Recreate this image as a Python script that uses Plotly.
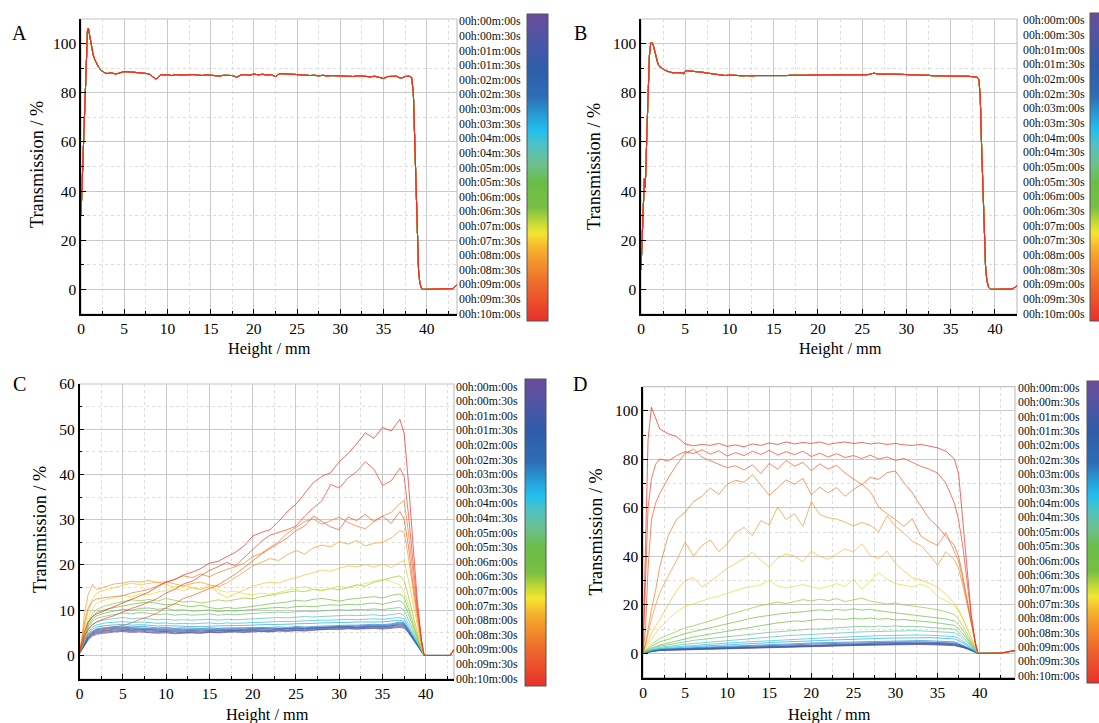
import plotly.graph_objects as go

W, H = 1099, 723

TIME_LABELS = ["00h:00m:00s", "00h:00m:30s", "00h:01m:00s", "00h:01m:30s", "00h:02m:00s",
               "00h:02m:30s", "00h:03m:00s", "00h:03m:30s", "00h:04m:00s", "00h:04m:30s",
               "00h:05m:00s", "00h:05m:30s", "00h:06m:00s", "00h:06m:30s", "00h:07m:00s",
               "00h:07m:30s", "00h:08m:00s", "00h:08m:30s", "00h:09m:00s", "00h:09m:30s",
               "00h:10m:00s"]

# ---------------- Panel A: (height mm, transmission %) all scans overlap ----------------
PROFILE_A = [(0, 30), (0.15, 45), (0.3, 62), (0.45, 82), (0.6, 98), (0.75, 105), (0.85, 106.3),
             (1.0, 103), (1.2, 98), (1.4, 95.5), (1.6, 93.5), (1.8, 91.8), (2.0, 90.5), (2.3, 89.2),
             (2.6, 88.4), (3.0, 87.8), (3.5, 88.1), (4.0, 87.6), (4.5, 88.0), (5.0, 88.6), (5.5, 88.5),
             (6.0, 88.4), (6.5, 88.2), (7.0, 88.0), (7.5, 87.9), (8.0, 87.4), (8.3, 86.6), (8.6, 85.6),
             (8.9, 86.0), (9.2, 87.4), (9.6, 87.2), (10, 87.3), (10.5, 87.0), (11, 87.4), (11.5, 87.2),
             (12, 87.3), (12.5, 87.1), (13, 87.4), (13.5, 87.2), (14, 87.0), (14.5, 87.3), (15, 87.2),
             (15.5, 87.0), (16, 86.8), (16.5, 87.1), (17, 87.2), (17.5, 87.0), (18, 86.3), (18.5, 87.2),
             (19, 87.4), (19.5, 87.1), (20, 87.6), (20.5, 87.3), (21, 87.5), (21.5, 87.2), (22, 87.4),
             (22.5, 86.6), (23, 87.8), (23.5, 87.6), (24, 87.7), (24.5, 87.5), (25, 87.4), (25.5, 87.2),
             (26, 87.3), (26.5, 87.0), (27, 87.1), (27.5, 86.9), (28, 87.1), (28.5, 86.8), (29, 87.0),
             (29.5, 86.9), (30, 86.7), (30.5, 86.9), (31, 86.8), (31.5, 86.6), (32, 86.9), (32.5, 86.7),
             (33, 86.8), (33.5, 86.5), (34, 86.7), (34.5, 86.4), (35, 85.8), (35.5, 86.6), (36, 86.5),
             (36.5, 86.7), (37, 85.9), (37.5, 86.6), (38, 86.7), (38.25, 86.2), (38.45, 80), (38.6, 60),
             (38.75, 38), (38.9, 20), (39.05, 8), (39.2, 2.5), (39.4, 0.3), (39.6, 0), (40, 0), (41, 0),
             (42, 0), (43, 0.3), (43.5, 1.8)]

# ---------------- Panel B ----------------
PROFILE_B = [(0, 8), (0.1, 20), (0.2, 32), (0.3, 42), (0.38, 45), (0.45, 41.5), (0.55, 48), (0.65, 62),
             (0.8, 82), (0.95, 95), (1.1, 100.2), (1.2, 100.6), (1.35, 99.8), (1.5, 97.5), (1.7, 94.5),
             (1.9, 92), (2.1, 90.6), (2.4, 89.8), (2.8, 89), (3.2, 88.5), (3.6, 88.1), (4.0, 88.2),
             (4.4, 88.3), (4.7, 88.1), (4.8, 87.6), (4.9, 88.4), (5.1, 89.0), (5.5, 88.9), (6.0, 88.7),
             (6.5, 88.5), (7.0, 88.3), (7.5, 88.0), (8.0, 87.8), (8.5, 87.5), (9.0, 87.3), (9.5, 87.0),
             (10.0, 87.2), (10.5, 87.0), (11, 87.1), (11.5, 86.9), (12, 87.0), (12.5, 86.8), (13, 87.0),
             (13.5, 86.9), (14, 87.1), (14.5, 87.0), (15, 87.0), (15.5, 86.9), (16, 87.1), (16.5, 87.0),
             (17, 87.1), (17.5, 87.0), (18, 87.2), (18.5, 87.1), (19, 87.2), (19.5, 87.2), (20, 87.3),
             (20.5, 87.2), (21, 87.3), (21.5, 87.2), (22, 87.4), (22.5, 87.3), (23, 87.4), (23.5, 87.5),
             (24, 87.4), (24.5, 87.5), (25, 87.4), (25.5, 87.3), (26, 87.6), (26.3, 88.0), (26.8, 87.6),
             (27.5, 87.7), (28, 87.8), (28.5, 87.6), (29, 87.5), (29.5, 87.6), (30, 87.4), (30.5, 87.3),
             (31, 87.3), (31.5, 87.1), (32, 87.0), (32.5, 87.1), (33, 86.9), (33.5, 86.9), (34, 86.8),
             (34.5, 86.9), (35, 86.7), (35.5, 86.8), (36, 86.7), (36.5, 86.6), (37, 86.7), (37.5, 86.5),
             (38, 86.3), (38.2, 85.2), (38.35, 78), (38.5, 58), (38.65, 38), (38.8, 20), (38.95, 9),
             (39.1, 3.5), (39.3, 0.8), (39.5, 0), (40, 0), (41, 0), (42, 0.2), (42.5, 1.5)]

# ---------------- Panel C: heights and one profile per scan ----------------
XC = [0, 0.3, 0.6, 1, 1.5, 2,
      3, 4, 5, 6, 7, 8, 9, 10, 11, 12, 13, 14, 15, 16, 17, 18, 19, 20, 21, 22, 23, 24, 25,
      26, 27, 28, 29, 30, 31, 32, 33, 34, 35, 36, 37,
      37.5, 38, 38.5, 39, 39.5, 39.8, 42.8, 43.25]

C_00m00s = [0.4, 1.2, 2.2, 3.4, 4.3, 4.7, 5.0, 5.2, 5.3, 5.1, 5.2, 5.0, 4.9, 5.0, 4.8, 4.9, 5.0, 4.9, 5.1, 5.0, 5.1, 5.2, 5.1, 5.2, 5.3, 5.2, 5.4, 5.3, 5.5, 5.4, 5.6, 5.7, 5.8, 5.7, 5.9, 5.8, 5.9, 6.0, 5.8, 6.0, 6.2, 6.0, 5.0, 3.6, 2.2, 0.9, 0.0, 0.0, 1.3]
C_00m30s = [0.4, 1.3, 2.4, 3.6, 4.5, 4.9, 5.2, 5.4, 5.5, 5.3, 5.4, 5.2, 5.1, 5.2, 5.0, 5.1, 5.1, 5.0, 5.2, 5.1, 5.3, 5.3, 5.2, 5.4, 5.4, 5.3, 5.5, 5.5, 5.6, 5.5, 5.7, 5.8, 5.9, 5.9, 6.0, 5.9, 6.0, 6.1, 6.0, 6.2, 6.4, 6.2, 5.1, 3.7, 2.3, 0.9, 0.0, 0.0, 1.3]
C_01m00s = [0.5, 1.4, 2.5, 3.8, 4.7, 5.1, 5.4, 5.6, 5.6, 5.5, 5.6, 5.4, 5.3, 5.3, 5.2, 5.2, 5.3, 5.2, 5.3, 5.3, 5.4, 5.5, 5.4, 5.5, 5.6, 5.5, 5.7, 5.6, 5.8, 5.7, 5.9, 6.0, 6.0, 6.1, 6.2, 6.1, 6.2, 6.3, 6.1, 6.3, 6.6, 6.4, 5.2, 3.8, 2.3, 0.9, 0.0, 0.0, 1.3]
C_01m30s = [0.5, 1.4, 2.6, 3.9, 4.8, 5.3, 5.6, 5.8, 5.8, 5.7, 5.8, 5.6, 5.5, 5.5, 5.4, 5.4, 5.5, 5.4, 5.5, 5.5, 5.6, 5.6, 5.5, 5.7, 5.7, 5.6, 5.8, 5.8, 5.9, 5.9, 6.0, 6.1, 6.2, 6.2, 6.3, 6.2, 6.3, 6.4, 6.3, 6.5, 6.8, 6.6, 5.4, 3.9, 2.4, 1.0, 0.0, 0.0, 1.3]
C_02m00s = [0.5, 1.5, 2.7, 4.0, 5.0, 5.5, 5.8, 6.0, 6.0, 5.9, 5.9, 5.8, 5.7, 5.7, 5.6, 5.6, 5.6, 5.6, 5.7, 5.6, 5.7, 5.8, 5.7, 5.8, 5.9, 5.8, 5.9, 5.9, 6.0, 6.0, 6.1, 6.2, 6.3, 6.3, 6.4, 6.3, 6.4, 6.5, 6.4, 6.6, 7.0, 6.8, 5.5, 4.0, 2.5, 1.0, 0.0, 0.0, 1.3]
C_02m30s = [0.5, 1.5, 2.8, 4.2, 5.2, 5.7, 6.0, 6.2, 6.2, 6.1, 6.1, 6.0, 5.9, 5.9, 5.8, 5.8, 5.8, 5.8, 5.9, 5.8, 5.9, 5.9, 5.9, 6.0, 6.0, 6.0, 6.1, 6.0, 6.2, 6.1, 6.2, 6.3, 6.4, 6.4, 6.5, 6.5, 6.6, 6.7, 6.6, 6.8, 7.2, 7.0, 5.6, 4.1, 2.5, 1.0, 0.0, 0.0, 1.3]
C_03m00s = [0.5, 1.6, 3.0, 4.4, 5.4, 5.9, 6.2, 6.4, 6.5, 6.3, 6.4, 6.3, 6.1, 6.2, 6.0, 6.1, 6.0, 6.0, 6.1, 6.0, 6.1, 6.1, 6.1, 6.2, 6.2, 6.2, 6.3, 6.2, 6.4, 6.3, 6.4, 6.5, 6.6, 6.6, 6.7, 6.7, 6.8, 6.9, 6.8, 7.0, 7.4, 7.2, 5.8, 4.2, 2.6, 1.0, 0.0, 0.0, 1.3]
C_03m30s = [0.5, 1.7, 3.2, 4.7, 5.8, 6.3, 6.6, 6.8, 6.9, 6.7, 6.8, 6.7, 6.5, 6.6, 6.5, 6.5, 6.4, 6.4, 6.5, 6.5, 6.6, 6.6, 6.6, 6.7, 6.8, 6.8, 6.9, 6.9, 7.0, 7.0, 7.1, 7.2, 7.2, 7.3, 7.3, 7.4, 7.4, 7.5, 7.4, 7.6, 7.8, 7.5, 6.0, 4.4, 2.7, 1.1, 0.0, 0.0, 1.3]
C_04m00s = [0.6, 1.8, 3.5, 5.1, 6.3, 6.8, 7.2, 7.4, 7.5, 7.3, 7.4, 7.3, 7.1, 7.2, 7.0, 7.1, 7.0, 7.1, 7.2, 7.0, 7.2, 7.1, 7.2, 7.3, 7.3, 7.4, 7.5, 7.5, 7.6, 7.6, 7.7, 7.8, 7.8, 7.9, 8.0, 7.9, 8.0, 8.1, 8.0, 8.2, 8.4, 8.0, 6.4, 4.6, 2.9, 1.1, 0.0, 0.0, 1.3]
C_04m30s = [0.6, 2.0, 3.8, 5.6, 6.9, 7.5, 7.9, 8.2, 8.4, 8.1, 8.3, 8.1, 7.9, 8.0, 7.8, 7.9, 7.8, 7.9, 8.0, 7.8, 8.0, 7.9, 8.0, 8.1, 8.2, 8.3, 8.4, 8.3, 8.5, 8.6, 8.5, 8.6, 8.7, 8.8, 8.9, 8.8, 8.9, 9.0, 8.8, 9.1, 9.3, 8.8, 7.0, 5.0, 3.1, 1.2, 0.0, 0.0, 1.3]
C_05m00s = [0.6, 2.1, 4.1, 6.1, 7.5, 8.2, 8.7, 9.1, 9.4, 9.2, 9.5, 9.3, 9.0, 9.2, 8.9, 9.1, 8.9, 9.0, 9.2, 8.9, 9.1, 9.0, 9.2, 9.3, 9.4, 9.5, 9.6, 9.5, 9.7, 9.8, 9.7, 9.9, 10.0, 10.1, 10.0, 10.2, 10.1, 10.3, 10.1, 10.4, 10.6, 10.0, 8.0, 5.7, 3.4, 1.3, 0.0, 0.0, 1.3]
C_05m30s = [0.7, 2.3, 4.4, 6.5, 8.0, 8.8, 9.4, 9.8, 10.2, 10.0, 10.4, 10.5, 10.2, 10.4, 10.0, 10.1, 9.8, 9.9, 10.1, 9.7, 9.9, 9.8, 10.0, 10.2, 10.3, 10.5, 10.6, 10.5, 10.8, 10.9, 10.8, 11.0, 11.2, 11.1, 11.3, 11.2, 11.4, 11.6, 11.3, 11.8, 12.1, 11.4, 9.1, 6.4, 3.8, 1.4, 0.0, 0.0, 1.3]
C_06m00s = [0.7, 2.4, 4.7, 7.0, 8.6, 9.5, 10.2, 10.6, 11.0, 11.3, 11.6, 11.8, 11.5, 11.2, 11.4, 11.0, 10.8, 11.1, 10.6, 10.3, 10.6, 10.4, 10.6, 10.9, 11.1, 11.4, 11.6, 11.8, 12.2, 12.0, 12.4, 12.6, 12.3, 12.0, 12.4, 12.6, 12.8, 13.0, 12.7, 13.3, 13.6, 12.8, 10.2, 7.2, 4.2, 1.5, 0.0, 0.0, 1.3]
C_06m30s = [0.7, 2.6, 5.0, 7.5, 9.2, 10.2, 11.0, 11.5, 11.9, 12.3, 12.1, 12.4, 12.0, 12.6, 12.2, 11.8, 12.0, 11.6, 11.9, 12.3, 12.0, 12.4, 12.7, 12.5, 13.0, 13.3, 13.6, 13.9, 14.3, 14.1, 14.6, 14.4, 14.8, 14.5, 15.1, 15.6, 15.3, 16.2, 16.6, 17.2, 17.6, 16.5, 13.0, 9.0, 5.2, 1.8, 0.0, 0.0, 1.3]
C_07m00s = [0.8, 2.9, 5.6, 8.4, 10.4, 11.6, 12.3, 12.8, 13.3, 13.0, 13.6, 13.4, 14.0, 14.4, 14.8, 14.3, 15.0, 14.6, 15.1, 14.5, 14.0, 14.2, 13.6, 13.4, 13.8, 13.5, 14.0, 14.4, 14.8, 15.2, 14.6, 14.3, 14.8, 15.3, 14.9, 15.4, 15.8, 16.4, 16.9, 16.4, 15.6, 14.0, 11.2, 7.8, 4.5, 1.6, 0.0, 0.0, 1.3]
C_07m30s = [0.9, 3.2, 6.5, 9.8, 12.4, 13.8, 14.5, 15.0, 15.6, 16.0, 15.6, 15.9, 16.2, 15.7, 15.1, 15.4, 15.0, 14.6, 15.5, 13.8, 12.8, 13.6, 14.4, 15.3, 15.8, 16.2, 16.0, 16.7, 17.2, 17.8, 18.4, 18.9, 18.6, 19.3, 19.8, 19.6, 20.1, 19.5, 20.2, 19.4, 20.6, 21.0, 16.5, 11.5, 6.5, 2.2, 0.0, 0.0, 1.3]
C_08m00s = [0.9, 4.5, 9.5, 13.5, 15.7, 14.6, 15.2, 15.8, 16.0, 16.4, 16.2, 16.6, 16.1, 16.3, 15.8, 15.4, 15.9, 16.2, 15.6, 15.2, 16.0, 17.2, 18.5, 19.8, 20.6, 21.4, 21.0, 22.3, 23.2, 22.4, 23.8, 24.4, 24.0, 25.2, 24.6, 25.4, 24.2, 24.8, 25.0, 26.0, 27.6, 27.2, 21.5, 14.5, 8.0, 2.5, 0.0, 0.0, 1.3]
C_08m30s = [0.8, 3.5, 7.5, 10.5, 12.0, 12.5, 12.8, 13.0, 13.2, 13.8, 14.2, 14.6, 15.4, 16.2, 16.8, 17.6, 17.2, 18.0, 17.4, 18.3, 19.0, 19.6, 20.4, 21.8, 22.6, 24.0, 25.2, 27.0, 28.4, 29.6, 30.2, 29.0, 29.8, 30.6, 29.4, 28.6, 28.0, 29.6, 30.8, 31.6, 33.6, 34.2, 27.0, 18.0, 10.0, 3.0, 0.0, 0.0, 1.3]
C_09m00s = [0.6, 2.0, 3.6, 4.6, 5.2, 5.6, 6.0, 6.3, 6.6, 7.2, 8.0, 8.6, 9.4, 10.6, 11.4, 12.6, 13.2, 14.0, 14.8, 15.6, 16.8, 18.0, 19.4, 21.0, 22.4, 23.6, 24.8, 26.0, 27.6, 28.6, 30.8, 29.6, 28.4, 27.8, 30.6, 29.8, 31.2, 29.6, 30.8, 29.2, 31.8, 30.0, 24.0, 16.0, 9.0, 2.8, 0.0, 0.0, 1.3]
C_09m30s = [0.6, 2.2, 4.2, 5.8, 6.8, 7.4, 8.2, 8.8, 9.6, 10.4, 11.0, 11.8, 12.6, 13.8, 14.6, 15.8, 16.4, 17.6, 18.8, 19.6, 20.6, 19.8, 21.6, 23.6, 25.2, 26.6, 27.2, 27.8, 28.6, 30.8, 32.6, 34.2, 37.8, 37.0, 39.2, 40.6, 42.8, 41.2, 37.6, 38.6, 41.4, 39.5, 31.0, 21.0, 11.0, 3.2, 0.0, 0.0, 1.3]
C_10m00s = [0.7, 2.8, 5.4, 7.4, 8.6, 9.2, 10.0, 10.8, 11.6, 12.4, 13.2, 14.0, 15.2, 16.2, 16.8, 17.8, 18.4, 19.2, 20.4, 20.8, 21.8, 22.8, 24.2, 26.4, 27.2, 27.8, 29.6, 31.8, 33.4, 35.8, 38.2, 39.6, 40.4, 42.8, 44.6, 46.8, 49.2, 48.0, 50.4, 49.6, 52.2, 49.0, 38.0, 25.0, 12.5, 3.5, 0.0, 0.0, 1.3]

# ---------------- Panel D ----------------
XD = [0, 0.3, 0.6, 1, 1.5, 2,
      3, 4, 5, 6, 7, 8, 9, 10, 11, 12, 13, 14, 15, 16, 17, 18, 19, 20, 21, 22, 23, 24, 25,
      26, 27, 28, 29, 30, 31, 32, 33, 34, 35, 36, 37,
      37.5, 38, 38.5, 39, 39.5, 39.8, 42.5, 44.2]

D_00m00s = [0.2, 0.4, 0.6, 0.8, 1.0, 1.2, 1.3, 1.4, 1.5, 1.5, 1.6, 1.7, 1.8, 1.9, 2.0, 2.1, 2.2, 2.3, 2.4, 2.5, 2.6, 2.7, 2.8, 2.9, 3.0, 3.0, 3.1, 3.2, 3.3, 3.3, 3.4, 3.5, 3.5, 3.6, 3.6, 3.7, 3.7, 3.6, 3.6, 3.4, 3.2, 2.9, 2.5, 1.9, 1.2, 0.5, 0.0, 0.1, 1.2]
D_00m30s = [0.2, 0.4, 0.6, 0.9, 1.1, 1.3, 1.4, 1.5, 1.6, 1.6, 1.7, 1.8, 1.9, 2.0, 2.1, 2.2, 2.3, 2.4, 2.5, 2.6, 2.7, 2.8, 2.9, 3.0, 3.1, 3.2, 3.2, 3.3, 3.4, 3.5, 3.5, 3.6, 3.7, 3.7, 3.8, 3.8, 3.9, 3.8, 3.7, 3.6, 3.4, 3.0, 2.6, 2.0, 1.3, 0.5, 0.0, 0.1, 1.2]
D_01m00s = [0.2, 0.4, 0.7, 0.9, 1.2, 1.4, 1.5, 1.6, 1.7, 1.7, 1.8, 1.9, 2.0, 2.1, 2.2, 2.3, 2.5, 2.6, 2.7, 2.8, 2.9, 3.0, 3.1, 3.2, 3.3, 3.4, 3.4, 3.5, 3.6, 3.7, 3.7, 3.8, 3.9, 3.9, 4.0, 4.0, 4.1, 4.0, 3.9, 3.8, 3.6, 3.2, 2.7, 2.1, 1.3, 0.5, 0.0, 0.1, 1.2]
D_01m30s = [0.2, 0.4, 0.7, 1.0, 1.2, 1.4, 1.6, 1.7, 1.8, 1.8, 1.9, 2.0, 2.1, 2.3, 2.4, 2.5, 2.6, 2.7, 2.8, 2.9, 3.0, 3.1, 3.2, 3.4, 3.5, 3.5, 3.6, 3.7, 3.8, 3.9, 3.9, 4.0, 4.1, 4.1, 4.2, 4.2, 4.3, 4.2, 4.1, 4.0, 3.8, 3.4, 2.9, 2.2, 1.4, 0.6, 0.0, 0.1, 1.2]
D_02m00s = [0.2, 0.5, 0.7, 1.0, 1.3, 1.5, 1.7, 1.8, 1.9, 2.0, 2.1, 2.2, 2.3, 2.4, 2.6, 2.7, 2.8, 2.9, 3.0, 3.1, 3.2, 3.3, 3.4, 3.6, 3.7, 3.7, 3.8, 3.9, 4.0, 4.1, 4.1, 4.2, 4.3, 4.4, 4.4, 4.5, 4.5, 4.4, 4.3, 4.2, 4.0, 3.6, 3.0, 2.3, 1.5, 0.6, 0.0, 0.1, 1.2]
D_02m30s = [0.2, 0.5, 0.8, 1.1, 1.4, 1.6, 1.8, 1.9, 2.0, 2.2, 2.3, 2.4, 2.5, 2.7, 2.8, 2.9, 3.0, 3.2, 3.3, 3.4, 3.5, 3.6, 3.7, 3.9, 4.0, 4.0, 4.1, 4.2, 4.3, 4.4, 4.4, 4.5, 4.6, 4.7, 4.7, 4.8, 4.8, 4.7, 4.6, 4.5, 4.3, 3.8, 3.2, 2.4, 1.6, 0.6, 0.0, 0.1, 1.2]
D_03m00s = [0.2, 0.5, 0.8, 1.1, 1.4, 1.7, 1.9, 2.1, 2.2, 2.4, 2.5, 2.7, 2.8, 3.0, 3.1, 3.2, 3.4, 3.5, 3.6, 3.8, 3.9, 4.0, 4.1, 4.3, 4.4, 4.4, 4.5, 4.6, 4.7, 4.8, 4.9, 5.0, 5.0, 5.1, 5.2, 5.2, 5.3, 5.2, 5.1, 5.0, 4.8, 4.2, 3.5, 2.6, 1.7, 0.7, 0.0, 0.1, 1.2]
D_03m30s = [0.2, 0.5, 0.9, 1.2, 1.6, 1.9, 2.2, 2.4, 2.6, 2.8, 3.0, 3.2, 3.4, 3.6, 3.8, 3.9, 4.1, 4.3, 4.5, 4.6, 4.8, 4.9, 5.1, 5.2, 5.4, 5.5, 5.6, 5.7, 5.9, 6.0, 6.1, 6.2, 6.3, 6.4, 6.5, 6.5, 6.6, 6.5, 6.4, 6.3, 6.0, 5.3, 4.4, 3.3, 2.1, 0.8, 0.0, 0.1, 1.2]
D_04m00s = [0.2, 0.6, 1.0, 1.4, 1.8, 2.1, 2.5, 2.8, 3.1, 3.3, 3.6, 3.8, 4.0, 4.3, 4.5, 4.7, 4.9, 5.1, 5.3, 5.5, 5.7, 5.9, 6.0, 6.2, 6.4, 6.5, 6.6, 6.8, 6.9, 7.0, 7.2, 7.3, 7.4, 7.5, 7.5, 7.6, 7.6, 7.5, 7.4, 7.2, 7.0, 6.2, 5.1, 3.8, 2.4, 0.9, 0.0, 0.1, 1.2]
D_04m30s = [0.2, 0.6, 1.1, 1.6, 2.1, 2.5, 3.0, 3.4, 3.8, 4.1, 4.4, 4.8, 5.0, 5.4, 5.7, 5.9, 6.2, 6.5, 6.8, 7.0, 7.3, 7.5, 7.7, 8.0, 8.1, 8.3, 8.4, 8.6, 8.7, 8.9, 9.0, 9.1, 9.2, 9.3, 9.2, 9.4, 9.3, 9.2, 9.1, 8.9, 8.6, 7.6, 6.2, 4.6, 2.9, 1.1, 0.0, 0.1, 1.2]
D_05m00s = [0.2, 0.7, 1.3, 1.9, 2.5, 3.0, 3.6, 4.3, 5.0, 5.4, 5.8, 6.2, 6.6, 7.0, 7.3, 7.6, 8.0, 8.4, 8.7, 8.9, 9.3, 9.6, 9.8, 10.1, 10.0, 10.4, 10.6, 10.8, 10.9, 11.2, 11.0, 11.3, 11.1, 11.4, 11.0, 11.2, 11.0, 10.8, 10.6, 10.4, 10.0, 8.8, 7.2, 5.3, 3.3, 1.2, 0.0, 0.1, 1.2]
D_05m30s = [0.2, 0.8, 1.5, 2.2, 2.9, 3.5, 4.3, 5.2, 6.2, 6.8, 7.4, 8.0, 8.6, 9.3, 9.8, 10.4, 11.0, 11.6, 12.2, 12.6, 13.0, 13.4, 13.2, 13.8, 14.2, 13.9, 14.3, 14.0, 14.5, 14.2, 14.6, 14.1, 14.4, 13.8, 14.0, 13.6, 13.4, 13.0, 12.6, 12.2, 11.6, 10.2, 8.3, 6.1, 3.8, 1.4, 0.0, 0.1, 1.2]
D_06m00s = [0.2, 1.0, 1.9, 2.9, 3.9, 4.8, 5.8, 7.0, 8.2, 9.0, 9.8, 10.8, 11.6, 12.4, 13.2, 13.8, 14.6, 15.2, 15.8, 16.2, 16.6, 16.8, 17.2, 17.6, 18.0, 17.6, 18.2, 17.8, 18.4, 17.9, 18.2, 17.6, 17.2, 16.8, 16.4, 16.0, 15.6, 15.2, 14.8, 14.2, 13.4, 11.8, 9.6, 7.0, 4.3, 1.6, 0.0, 0.1, 1.2]
D_06m30s = [0.3, 1.2, 2.4, 3.8, 5.0, 6.2, 7.6, 9.2, 10.6, 11.4, 12.4, 13.6, 14.6, 15.8, 16.8, 17.8, 18.6, 19.8, 20.4, 21.2, 20.6, 21.4, 22.2, 21.6, 22.4, 21.8, 22.6, 21.4, 22.0, 22.8, 21.6, 21.0, 20.4, 20.8, 20.0, 19.6, 19.2, 18.6, 18.0, 17.2, 16.0, 14.0, 11.4, 8.2, 5.0, 1.8, 0.0, 0.1, 1.2]
D_07m00s = [0.3, 1.8, 3.8, 6.0, 8.4, 10.6, 14.0, 17.2, 19.4, 20.4, 21.6, 22.8, 23.6, 24.8, 26.0, 27.0, 27.6, 28.4, 30.2, 27.8, 27.0, 27.6, 28.4, 27.4, 26.8, 27.6, 28.8, 27.6, 30.6, 26.4, 30.0, 33.4, 30.6, 28.8, 28.2, 27.4, 28.6, 27.2, 23.4, 21.8, 19.6, 17.4, 14.2, 10.2, 6.2, 2.2, 0.0, 0.1, 1.2]
D_07m30s = [0.3, 2.6, 5.4, 8.4, 11.4, 14.0, 20.2, 26.0, 30.2, 31.2, 27.4, 29.6, 32.4, 35.2, 37.0, 39.2, 41.8, 38.4, 35.6, 39.4, 41.0, 40.2, 37.8, 42.2, 40.0, 38.8, 41.0, 43.2, 41.8, 45.2, 40.4, 39.0, 42.2, 37.2, 34.0, 31.2, 30.4, 29.0, 27.2, 24.4, 20.6, 18.0, 14.6, 10.4, 6.4, 2.2, 0.0, 0.1, 1.2]
D_08m00s = [0.3, 3.5, 8.0, 14.0, 20.0, 25.0, 32.0, 38.4, 46.0, 40.2, 44.6, 46.8, 42.0, 45.2, 49.8, 52.0, 48.6, 54.8, 53.0, 60.4, 55.2, 57.6, 52.4, 62.6, 57.2, 56.0, 55.4, 54.2, 52.6, 54.0, 52.8, 50.2, 56.8, 52.4, 49.6, 46.2, 44.6, 40.8, 36.4, 42.0, 38.6, 35.0, 28.0, 20.0, 12.0, 4.0, 0.0, 0.1, 1.2]
D_08m30s = [0.3, 4.0, 10.0, 18.0, 26.0, 36.0, 48.6, 55.4, 58.2, 62.6, 64.8, 68.2, 65.6, 69.8, 71.4, 70.6, 73.8, 69.4, 65.2, 68.4, 71.6, 69.8, 72.2, 65.4, 68.6, 66.2, 68.4, 64.8, 67.6, 69.8, 66.8, 60.4, 57.6, 55.2, 52.4, 55.6, 48.4, 46.2, 44.6, 49.8, 42.4, 38.0, 30.0, 21.0, 12.5, 4.2, 0.0, 0.1, 1.2]
D_09m00s = [0.2, 10.0, 35.0, 55.0, 62.0, 66.0, 72.4, 77.8, 82.6, 84.2, 81.0, 79.4, 78.0, 76.6, 77.4, 75.6, 77.8, 74.2, 78.4, 76.0, 79.6, 77.2, 78.8, 75.4, 78.2, 76.0, 77.6, 74.4, 72.0, 69.6, 72.6, 71.8, 74.6, 75.2, 70.4, 66.2, 60.8, 55.6, 52.4, 48.2, 44.6, 40.0, 32.0, 22.0, 12.0, 3.5, 0.0, 0.1, 1.2]
D_09m30s = [0.3, 28.0, 60.0, 72.0, 78.0, 80.2, 79.4, 81.6, 83.2, 82.4, 84.0, 82.2, 83.6, 81.4, 82.8, 81.6, 83.4, 82.0, 83.8, 81.8, 83.2, 82.0, 83.4, 81.2, 82.6, 81.0, 82.4, 80.8, 81.6, 80.4, 81.8, 80.2, 81.0, 79.6, 80.4, 78.8, 77.2, 76.0, 74.4, 70.2, 62.0, 55.0, 44.0, 30.0, 15.0, 4.0, 0.0, 0.1, 1.2]
D_10m00s = [0.5, 40.0, 88.0, 101.5, 97.0, 92.5, 90.6, 89.4, 86.4, 85.6, 86.2, 85.8, 86.6, 85.4, 86.0, 85.2, 86.4, 85.8, 86.8, 86.2, 87.2, 86.4, 87.0, 86.6, 87.2, 86.2, 86.8, 87.2, 86.6, 87.0, 86.4, 86.8, 86.2, 86.6, 86.0, 85.8, 86.2, 85.6, 84.8, 83.4, 80.2, 74.0, 55.0, 35.0, 16.0, 4.0, 0.0, 0.1, 1.2]

C_SERIES = [C_00m00s, C_00m30s, C_01m00s, C_01m30s, C_02m00s, C_02m30s, C_03m00s, C_03m30s,
            C_04m00s, C_04m30s, C_05m00s, C_05m30s, C_06m00s, C_06m30s, C_07m00s, C_07m30s,
            C_08m00s, C_08m30s, C_09m00s, C_09m30s, C_10m00s]
D_SERIES = [D_00m00s, D_00m30s, D_01m00s, D_01m30s, D_02m00s, D_02m30s, D_03m00s, D_03m30s,
            D_04m00s, D_04m30s, D_05m00s, D_05m30s, D_06m00s, D_06m30s, D_07m00s, D_07m30s,
            D_08m00s, D_08m30s, D_09m00s, D_09m30s, D_10m00s]
for s in C_SERIES:
    assert len(s) == len(XC), len(s)
for s in D_SERIES:
    assert len(s) == len(XD), len(s)

XA = [p[0] for p in PROFILE_A]
YA = [p[1] for p in PROFILE_A]
XB = [p[0] for p in PROFILE_B]
YB = [p[1] for p in PROFILE_B]

# ---------------- colours (fraction of 10 min -> colour) ----------------
SPECTRUM = [(0.00, "#6a4c9c"), (0.08, "#4e55a4"), (0.17, "#2f5ca9"), (0.27, "#2d6db6"),
            (0.34, "#26a4dc"), (0.38, "#22bfee"), (0.43, "#50c2c2"), (0.49, "#6cc08c"),
            (0.55, "#6bbd47"), (0.63, "#78bf43"), (0.68, "#c4d936"), (0.715, "#f5e531"),
            (0.76, "#f6b72d"), (0.80, "#f39a2b"), (0.88, "#ee6a2c"), (1.00, "#e8302a")]


def hex2rgb(h):
    h = h.lstrip("#")
    return tuple(int(h[i:i + 2], 16) for i in (0, 2, 4))


def color_at(t, alpha=1.0):
    for (p0, c0), (p1, c1) in zip(SPECTRUM[:-1], SPECTRUM[1:]):
        if p0 <= t <= p1:
            f = 0 if p1 == p0 else (t - p0) / (p1 - p0)
            a, b = hex2rgb(c0), hex2rgb(c1)
            rgb = tuple(round(a[k] + (b[k] - a[k]) * f) for k in range(3))
            return "rgba(%d,%d,%d,%.2f)" % (rgb + (alpha,))
    return SPECTRUM[-1][1]


# plotly colourscale: bottom (0) = 10 min (red), top (1) = 0 min (purple)
CSCALE = sorted([(1 - p, c) for p, c in SPECTRUM])

FONT = "Times New Roman, Liberation Serif, serif"


def pxx(v):
    return v / W


def pxy(v):
    return 1 - v / H


panels = [
    dict(key="", xs=[XA] * 21, ys=[YA] * 21, xdom=(81, 457), ydom=(19, 314), xr=[0, 43.5], yr=[-10, 110],
         ydt=20, ymin=10, cb=(527, 14, 321), lab_r=523, letter=("A", 19, 33),
         xt=(269, 348), yt=(37, 165), alpha=0.9),
    dict(key="2", xs=[XB] * 21, ys=[YB] * 21, xdom=(641, 1017), ydom=(19, 314), xr=[0, 42.5], yr=[-10, 110],
         ydt=20, ymin=10, cb=(1090, 13, 321), lab_r=1087, letter=("B", 580, 33),
         xt=(840, 348), yt=(594, 167), alpha=0.9),
    dict(key="3", xs=[XC] * 21, ys=C_SERIES, xdom=(79.5, 454), ydom=(384, 679), xr=[0, 43.25], yr=[-5.2, 60],
         ydt=10, ymin=5, cb=(525, 379.3, 686), lab_r=520, letter=("C", 19, 384),
         xt=(267, 714), yt=(40, 530), alpha=0.72),
    dict(key="4", xs=[XD] * 21, ys=D_SERIES, xdom=(643, 1015), ydom=(386.7, 677.7), xr=[0, 44.2], yr=[-10, 110],
         ydt=20, ymin=10, cb=(1086.5, 380.7, 683), lab_r=1081.5, letter=("D", 580, 384),
         xt=(829, 714), yt=(595.5, 532), alpha=0.72),
]

fig = go.Figure()
annotations = []
shapes = []
layout = dict()

for pn in panels:
    k = pn["key"]
    xa, ya = "x" + k, "y" + k
    for i in range(21):
        fig.add_trace(go.Scatter(x=pn["xs"][i], y=pn["ys"][i], mode="lines",
                                 line=dict(color=color_at(i / 20, pn["alpha"]), width=1),
                                 xaxis=xa, yaxis=ya, showlegend=False, hoverinfo="skip"))
    x0, top, bot = pn["cb"]
    fig.add_trace(go.Scatter(x=[None], y=[None], mode="markers", xaxis=xa, yaxis=ya, showlegend=False,
                             hoverinfo="skip",
                             marker=dict(color=[0], cmin=0, cmax=20, colorscale=CSCALE, showscale=True,
                                         colorbar=dict(thickness=21, thicknessmode="pixels",
                                                       len=bot - top, lenmode="pixels",
                                                       x=pxx(x0), xanchor="left",
                                                       y=pxy((top + bot) / 2), yanchor="middle",
                                                       xpad=0, ypad=0, outlinewidth=1,
                                                       outlinecolor="#555555",
                                                       showticklabels=False, ticks=""))))
    binh = (bot - top) / 21
    for i, lab in enumerate(TIME_LABELS):
        annotations.append(dict(text=lab, x=pxx(pn["lab_r"]), y=pxy(top + (i + 0.5) * binh),
                                xref="paper", yref="paper", xanchor="right", yanchor="middle",
                                showarrow=False, font=dict(family=FONT, size=11.8, color="#111")))
    L, lx, ly = pn["letter"]
    annotations.append(dict(text=L, x=pxx(lx), y=pxy(ly), xref="paper", yref="paper",
                            xanchor="center", yanchor="middle", showarrow=False,
                            font=dict(family=FONT, size=20, color="black")))
    annotations.append(dict(text="Height / mm", x=pxx(pn["xt"][0]), y=pxy(pn["xt"][1]),
                            xref="paper", yref="paper", xanchor="center", yanchor="middle",
                            showarrow=False, font=dict(family=FONT, size=16.3, color="black")))
    annotations.append(dict(text="Transmission / %", x=pxx(pn["yt"][0]), y=pxy(pn["yt"][1]),
                            xref="paper", yref="paper", xanchor="center", yanchor="middle",
                            textangle=-90, showarrow=False,
                            font=dict(family=FONT, size=18.3, color="black")))
    common = dict(showline=True, linecolor="black", linewidth=1.5, ticks="inside", ticklen=5,
                  tickwidth=1.2, tickcolor="black", showgrid=True, gridcolor="#c9c9c9", gridwidth=1.2,
                  zeroline=False, tickfont=dict(family=FONT, size=15.5, color="black"), fixedrange=True)
    layout["xaxis" + k] = dict(common, domain=[pxx(pn["xdom"][0]), pxx(pn["xdom"][1])],
                               range=pn["xr"], dtick=5, tick0=0, anchor=ya,
                               minor=dict(dtick=2.5, tick0=0, ticks="inside", ticklen=3, tickcolor="black",
                                          showgrid=True, gridcolor="#dddddd", griddash="dot", gridwidth=1))
    layout["yaxis" + k] = dict(common, domain=[pxy(pn["ydom"][1]), pxy(pn["ydom"][0])],
                               range=pn["yr"], dtick=pn["ydt"], tick0=0, anchor=xa,
                               minor=dict(dtick=pn["ymin"], tick0=0, ticks="inside", ticklen=3,
                                          tickcolor="black", showgrid=True, gridcolor="#dddddd",
                                          griddash="dot", gridwidth=1))
    shapes.append(dict(type="rect", xref=xa + " domain", yref=ya + " domain", x0=0, x1=1, y0=0, y1=1,
                       line=dict(color="#c4c4c4", width=1.2), layer="below"))

fig.update_layout(width=W, height=H, margin=dict(l=0, r=0, t=0, b=0, autoexpand=False),
                  paper_bgcolor="white", plot_bgcolor="white", showlegend=False,
                  font=dict(family=FONT),
                  annotations=annotations, shapes=shapes, **layout)

fig.write_html("out.html", config={"displayModeBar": False},
               post_script="document.body.style.margin='0';document.body.style.overflow='hidden';")
